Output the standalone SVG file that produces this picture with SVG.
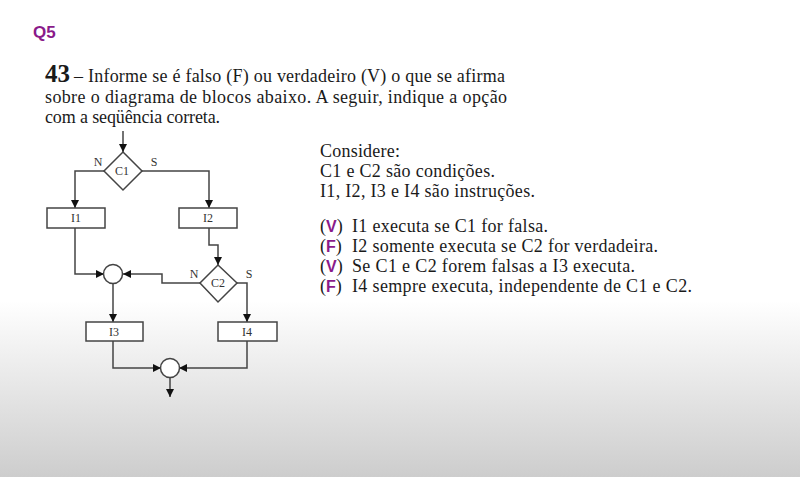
<svg xmlns="http://www.w3.org/2000/svg" width="800" height="477" viewBox="0 0 800 477">
<defs>
<linearGradient id="bg" x1="0" y1="0" x2="0" y2="477" gradientUnits="userSpaceOnUse">
<stop offset="0" stop-color="#ffffff"/>
<stop offset="0.63" stop-color="#ffffff"/>
<stop offset="1" stop-color="#cdcdcd"/>
</linearGradient>
<marker id="ah" viewBox="0 0 10 10" refX="10" refY="5" markerWidth="8" markerHeight="8" markerUnits="userSpaceOnUse" orient="auto">
<path d="M0,0 L10,5 L0,10 Z" fill="#111"/>
</marker>
<style>
.ln{fill:none;stroke:#444;stroke-width:1.5}
.bx{fill:#fff;stroke:#444;stroke-width:1.5}
.lb{font-family:"Liberation Serif",serif;font-size:12px;fill:#333;text-anchor:middle}
.t{font-family:"Liberation Serif",serif;font-size:18px;fill:#1a1a1a}
.p{font-family:"Liberation Sans",sans-serif;fill:#8a1a8a;font-weight:bold}
.big{font-family:"Liberation Serif",serif;font-size:25px;font-weight:bold;fill:#1a1a1a}
.pv{font-size:16px}
.q{font-size:17px}
</style>
</defs>
<rect x="0" y="0" width="800" height="477" fill="url(#bg)"/>
<text x="33" y="38" class="p q">Q5</text>
<text x="45" y="82" class="big">43</text>
<text x="74" y="82" class="t" textLength="431" lengthAdjust="spacing">– Informe se é falso (F) ou verdadeiro (V) o que se afirma</text>
<text x="45" y="103" class="t" textLength="462" lengthAdjust="spacing">sobre o diagrama de blocos abaixo. A seguir, indique a opção</text>
<text x="45" y="123" class="t" textLength="175" lengthAdjust="spacing">com a seqüência correta.</text>
<text x="320" y="157" class="t" textLength="80" lengthAdjust="spacing">Considere:</text>
<text x="320" y="177" class="t" textLength="175" lengthAdjust="spacing">C1 e C2 são condições.</text>
<text x="320" y="197" class="t" textLength="215" lengthAdjust="spacing">I1, I2, I3 e I4 são instruções.</text>
<text x="320" y="232" class="t">(<tspan class="p pv">V</tspan>)</text>
<text x="352" y="232" class="t" textLength="196" lengthAdjust="spacing">I1 executa se C1 for falsa.</text>
<text x="320" y="252" class="t">(<tspan class="p pv">F</tspan>)</text>
<text x="352" y="252" class="t" textLength="306" lengthAdjust="spacing">I2 somente executa se C2 for verdadeira.</text>
<text x="320" y="272" class="t">(<tspan class="p pv">V</tspan>)</text>
<text x="352" y="272" class="t" textLength="283" lengthAdjust="spacing">Se C1 e C2 forem falsas a I3 executa.</text>
<text x="320" y="292" class="t">(<tspan class="p pv">F</tspan>)</text>
<text x="352" y="292" class="t" textLength="340" lengthAdjust="spacing">I4 sempre executa, independente de C1 e C2.</text>
<g id="connectors">
<path class="ln" d="M123,131 V152" marker-end="url(#ah)"/>
<path class="ln" d="M105,171 H75 V208" marker-end="url(#ah)"/>
<path class="ln" d="M142,171 H209 V208" marker-end="url(#ah)"/>
<path class="ln" d="M209,228 V245 H218 V265" marker-end="url(#ah)"/>
<path class="ln" d="M75,228 V274 H104" marker-end="url(#ah)"/>
<path class="ln" d="M200,283 H162 V274 H123" marker-end="url(#ah)"/>
<path class="ln" d="M113,284 V322" marker-end="url(#ah)"/>
<path class="ln" d="M237,283 H247 V322" marker-end="url(#ah)"/>
<path class="ln" d="M113,341 V368 H161" marker-end="url(#ah)"/>
<path class="ln" d="M247,341 V368 H179" marker-end="url(#ah)"/>
<path class="ln" d="M170,377 V397" marker-end="url(#ah)"/>
</g>
<g id="C1">
<path class="bx" d="M123,152 L142,171 L123,190 L104,171 Z"/>
<text x="122" y="175" class="lb">C1</text>
<text x="98" y="166" class="lb">N</text>
<text x="154" y="166" class="lb">S</text>
</g>
<g id="I1"><rect class="bx" x="47" y="208" width="58" height="20"/><text x="76" y="222" class="lb">I1</text></g>
<g id="I2"><rect class="bx" x="179" y="208" width="58" height="20"/><text x="208" y="222" class="lb">I2</text></g>
<g id="C2">
<path class="bx" d="M218,265 L237,283 L218,302 L200,283 Z"/>
<text x="218" y="287" class="lb">C2</text>
<text x="194" y="278" class="lb">N</text>
<text x="249" y="278" class="lb">S</text>
</g>
<g id="J1"><circle class="bx" cx="113" cy="274" r="9.5"/></g>
<g id="I3"><rect class="bx" x="86" y="322" width="57" height="19"/><text x="114" y="336" class="lb">I3</text></g>
<g id="I4"><rect class="bx" x="218" y="322" width="59" height="19"/><text x="247" y="336" class="lb">I4</text></g>
<g id="J2"><circle class="bx" cx="170" cy="368" r="9.5"/></g>
</svg>
